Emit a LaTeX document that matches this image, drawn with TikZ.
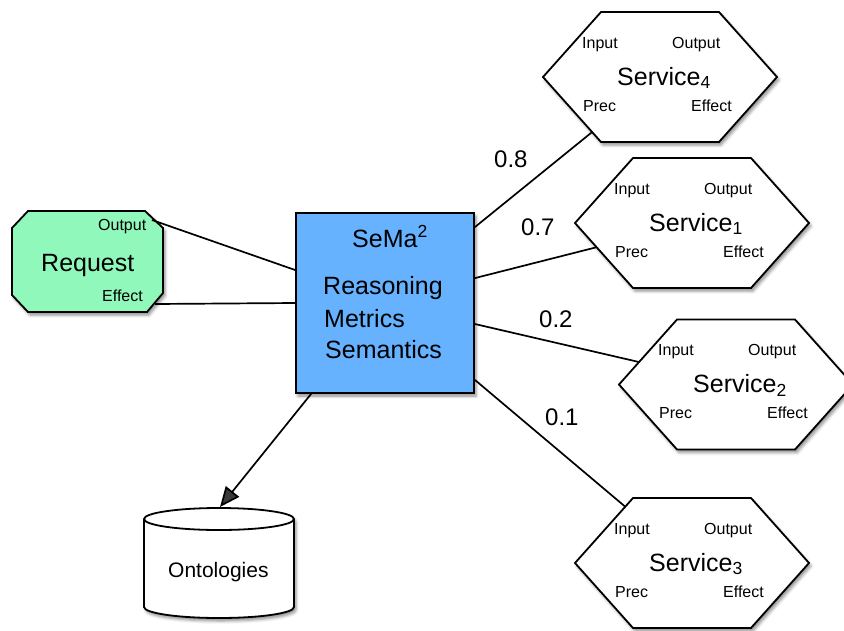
\documentclass[tikz,border=0pt]{standalone}
\usepackage{fontspec}
\setmainfont{Liberation Sans}
\usetikzlibrary{shapes.symbols,shadows.blur,arrows.meta}
\definecolor{reqgreen}{RGB}{143,248,186}
\definecolor{semablue}{RGB}{102,178,255}
\tikzset{
  conn/.style={line width=1.7pt},
  shad/.style={blur shadow={shadow xshift=2pt, shadow yshift=-3pt, shadow blur radius=3pt, shadow opacity=45}},
  lbl/.style={font=\fontsize{16}{16}\selectfont, inner sep=0, anchor=base west},
  big/.style={font=\fontsize{25}{25}\selectfont, inner sep=0, anchor=base west},
  elab/.style={font=\fontsize{24}{24}\selectfont, inner sep=0, anchor=base west},
  hexa/.style={signal, signal to=east and west, signal pointer angle=96.5,
    minimum width=234pt, minimum height=130pt, inner sep=0pt, outer sep=0pt,
    draw, line width=1.8pt, fill=white, shad},
}
\begin{document}
\begin{tikzpicture}[x=1pt,y=-1pt]
\useasboundingbox (0,0) rectangle (844,630);

% Request (octagon drawn round an invisible box node)
\node[minimum width=151pt, minimum height=101pt, inner sep=0pt, outer sep=0pt] (req) at (87.5,261.5) {};
\path[draw, line width=1.8pt, fill=reqgreen, shad]
  ([shift={(16,0)}]req.north west) -- ([shift={(-18,0)}]req.north east)
  -- ([shift={(0,17)}]req.north east) -- ([shift={(0,-19)}]req.south east)
  -- ([shift={(-16,0)}]req.south east) -- ([shift={(16,0)}]req.south west)
  -- ([shift={(0,-17)}]req.south west) -- ([shift={(0,17)}]req.north west) -- cycle;
\node[lbl] (reqout) at (98,230) {Output};
\node[big] (reqtxt) at (41,271) {Request};
\node[lbl] (reqeff) at (102,301) {Effect};

% SeMa box
\node[draw, fill=semablue, line width=1.8pt, minimum width=178pt, minimum height=180pt,
  inner sep=0pt, shad] (sema) at (385,303) {};
\node[big] (sematitle) at (352,247) {SeMa\textsuperscript{2}};
\node[big] (semar) at (323,294) {Reasoning};
\node[big] (semam) at (324,327) {Metrics};
\node[big] (semas) at (325,358) {Semantics};

% Ontologies cylinder
\path[draw, fill=white, line width=1.8pt, shad] (144,519) -- (144,607)
  arc[start angle=180, end angle=360, x radius=75pt, y radius=11pt] -- (294,519)
  arc[start angle=0, end angle=180, x radius=75pt, y radius=11pt] -- cycle;
\draw[line width=1.8pt] (144,519) arc[start angle=180, end angle=360, x radius=75pt, y radius=11pt];
\node[font=\fontsize{21}{21}\selectfont, inner sep=0, anchor=base west] (onto) at (168,577) {Ontologies};
\coordinate (ontotop) at (220,507);

% Services
\node[hexa] (s4) at (660,77) {};
\node[hexa] (s1) at (692,223) {};
\node[hexa] (s2) at (736,384.5) {};
\node[hexa] (s3) at (692,563) {};
\foreach \nm/\idx in {s4/4, s1/1, s2/2, s3/3} {
  \node[lbl] (\nm in) at ([shift={(-78,-29)}]\nm.center) {Input};
  \node[lbl] (\nm out) at ([shift={(12,-29)}]\nm.center) {Output};
  \node[lbl] (\nm prec) at ([shift={(-77,34)}]\nm.center) {Prec};
  \node[lbl] (\nm eff) at ([shift={(31,34)}]\nm.center) {Effect};
  \node[big] (\nm name) at ([shift={(-43,8)}]\nm.center) {Service\textsubscript{\idx}};
}

% connectors
\draw[conn] ([shift={(-11,-41.5)}]req.east) -- ([shift={(0,-33)}]sema.west);
\draw[conn] ([shift={(-8,42.5)}]req.east) -- (sema.west);
\draw[conn] ([shift={(0,15)}]sema.north east) -- (s4);
\draw[conn] ([shift={(0,66)}]sema.north east) -- (s1);
\draw[conn] ([shift={(0,21)}]sema.east) -- (s2);
\draw[conn] ([shift={(0,-14)}]sema.south east) -- (s3);
\draw[conn, -{Triangle[length=20pt, width=17pt]}] ([shift={(16,0)}]sema.south west) -- (ontotop);

% weights
\node[elab] (w8) at (494,167) {0.8};
\node[elab] (w7) at (521,235) {0.7};
\node[elab] (w2) at (539,327) {0.2};
\node[elab] (w1) at (545,425) {0.1};
\end{tikzpicture}
\end{document}
